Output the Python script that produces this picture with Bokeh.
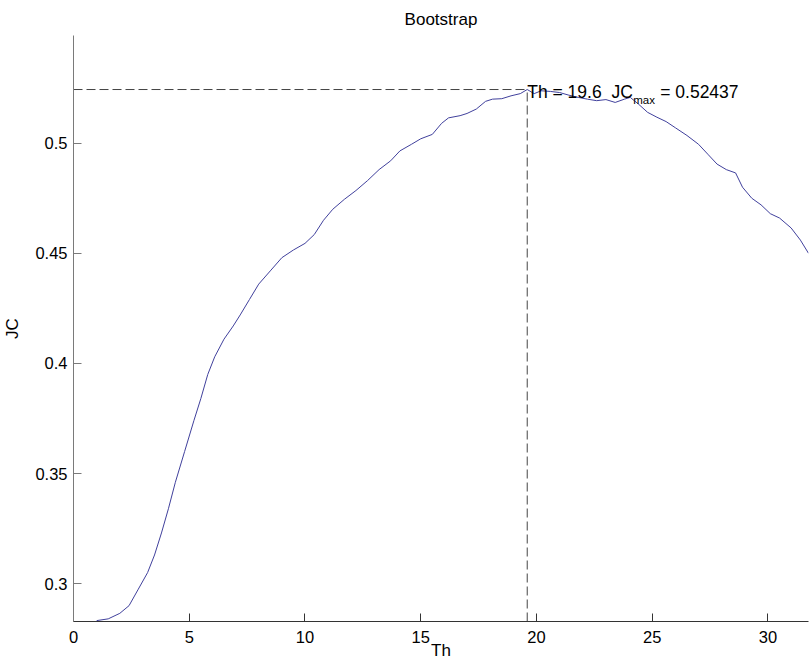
from bokeh.plotting import figure
from bokeh.models import Range1d, Label, FixedTicker
from bokeh.embed import file_html
from bokeh.resources import INLINE

# ---- data ----
th = [1.0, 1.5, 2.0, 2.4, 2.8, 3.2, 3.5, 3.8, 4.1, 4.4, 4.8, 5.2, 5.5, 5.8,
      6.1, 6.5, 6.9, 7.2, 7.6, 8.0, 8.5, 9.0, 9.5, 10.0, 10.4, 10.8, 11.2,
      11.7, 12.2, 12.7, 13.2, 13.7, 14.1, 14.6, 15.0, 15.5, 15.9, 16.2, 16.7,
      17.0, 17.4, 17.8, 18.1, 18.5, 18.9, 19.3, 19.6, 19.9, 20.2, 20.6, 21.0,
      21.4, 21.8, 22.2, 22.6, 23.0, 23.4, 23.8, 24.05, 24.4, 24.8, 25.2, 25.6,
      26.0, 26.5, 27.0, 27.4, 27.8, 28.2, 28.6, 28.9, 29.3, 29.7, 30.1, 30.5,
      31.0, 31.4, 31.75]
jc = [0.2832, 0.2840, 0.2865, 0.2900, 0.2975, 0.3050, 0.3130, 0.3230, 0.3340,
      0.3460, 0.3600, 0.3740, 0.3840, 0.3950, 0.4030, 0.4110, 0.4170, 0.4220,
      0.4290, 0.4360, 0.4420, 0.4480, 0.4515, 0.4545, 0.4585, 0.4650, 0.4700,
      0.4745, 0.4785, 0.4830, 0.4880, 0.4920, 0.4965, 0.4995, 0.5020, 0.5040,
      0.5090, 0.5115, 0.5125, 0.5135, 0.5155, 0.5190, 0.5200, 0.5202, 0.5215,
      0.5225, 0.52437, 0.5225, 0.5238, 0.5235, 0.5230, 0.5218, 0.5208, 0.5200,
      0.5193, 0.5198, 0.5185, 0.5200, 0.5208, 0.5178, 0.5140, 0.5118, 0.5098,
      0.5070, 0.5035, 0.4995, 0.4950, 0.4905, 0.4880, 0.4865, 0.4800, 0.4750,
      0.4720, 0.4680, 0.4660, 0.4615, 0.4560, 0.4500]

th_best = 19.6
jc_max = 0.52437

x_ticks = [0, 5, 10, 15, 20, 25, 30]
y_ticks = [0.3, 0.35, 0.4, 0.45, 0.5]
y_tick_labels = ["0.3", "0.35", "0.4", "0.45", "0.5"]

x_lim = (0, 31.75)
y_lim = (0.2828, 0.5489)

title_text = "Bootstrap"
FONT = "Liberation Sans"
NB = "\u00a0"

p = figure(width=809, height=667, output_backend="svg", toolbar_location=None,
           x_range=Range1d(*x_lim), y_range=Range1d(*y_lim),
           title=title_text, x_axis_label="Th", y_axis_label="JC",
           min_border_left=73, min_border_right=1, min_border_top=35,
           min_border_bottom=46)

p.outline_line_color = None
p.grid.visible = False
p.background_fill_color = "white"
p.border_fill_color = "white"

# title
p.title.align = "center"
p.title.text_font = FONT
p.title.text_font_size = "17px"
p.title.text_font_style = "normal"
p.title.text_color = "black"
p.title.text_line_height = 0.9
p.title.standoff = 14
p.title.offset = 2

# axes
for ax in (p.xaxis[0], p.yaxis[0]):
    ax.major_label_text_font = FONT
    ax.major_label_text_font_size = "16.5px"
    ax.major_label_text_color = "black"
    ax.axis_label_text_font = FONT
    ax.axis_label_text_font_size = "17px"
    ax.axis_label_text_font_style = "normal"
    ax.axis_label_text_color = "black"
    ax.major_tick_in = 8
    ax.major_tick_out = 0
    ax.minor_tick_in = 0
    ax.minor_tick_out = 0
    ax.axis_line_width = 1

p.xaxis[0].ticker = FixedTicker(ticks=x_ticks)
p.yaxis[0].ticker = FixedTicker(ticks=y_ticks)
p.yaxis[0].major_label_overrides = {t: l for t, l in zip(y_ticks, y_tick_labels)}
p.xaxis[0].axis_line_color = "#333333"
p.xaxis[0].major_tick_line_color = "#333333"
p.yaxis[0].axis_line_color = "#7a7a7a"
p.yaxis[0].major_tick_line_color = "#7a7a7a"
p.xaxis[0].major_label_standoff = 9
p.xaxis[0].axis_label_standoff = -5
p.yaxis[0].major_label_standoff = 6
p.yaxis[0].axis_label_standoff = 10

# curve
p.line(th, jc, line_color="#40409c", line_width=1)

# dashed guide lines to the maximum
p.line([x_lim[0], th_best], [jc_max, jc_max], line_color="#444444",
       line_width=1, line_dash="9 4")
p.line([th_best, th_best], [y_lim[0], jc_max], line_color="#444444",
       line_width=1, line_dash="9 4")

# annotation text "Th = 19.6  JC_max = 0.52437"
main_size = 17.5
sub_size = 11.5
part1 = "Th" + NB + "=" + NB + "%.1f" % th_best + NB + NB + "JC"
part3 = "=" + NB + "%.5f" % jc_max
w1 = 106
wsub = 22
p.add_layout(Label(x=th_best, y=jc_max, text=part1, x_offset=0, y_offset=-2,
                   text_font=FONT, text_font_size="%spx" % main_size,
                   text_baseline="alphabetic", text_align="left", text_color="black"))
p.add_layout(Label(x=th_best, y=jc_max, text="max", x_offset=w1, y_offset=-10,
                   text_font=FONT, text_font_size="%spx" % sub_size,
                   text_baseline="alphabetic", text_align="left", text_color="black"))
p.add_layout(Label(x=th_best, y=jc_max, text=part3, x_offset=w1 + wsub + 5, y_offset=-2,
                   text_font=FONT, text_font_size="%spx" % main_size,
                   text_baseline="alphabetic", text_align="left", text_color="black"))

open("out.html", "w").write(file_html(p, INLINE))
